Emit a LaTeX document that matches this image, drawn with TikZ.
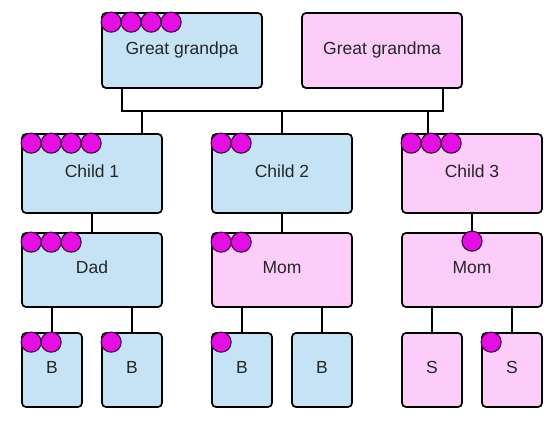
\documentclass[tikz,border=0pt]{standalone}
\usepackage{fontspec}
\setmainfont{Liberation Sans}
\definecolor{boxblue}{HTML}{C5E3F5}
\definecolor{boxpink}{HTML}{FCCDF8}
\definecolor{dotfill}{HTML}{E30FE3}
\definecolor{dotline}{HTML}{4A0A4A}
\tikzset{
  box/.style={draw=black, line width=1.7pt, rounded corners=4pt, inner sep=0pt,
    text height=8pt, text depth=0pt, font=\fontsize{17.5}{20}\selectfont, text=black!85},
  bigbox/.style={box, minimum width=160pt, minimum height=75pt},
  midbox/.style={box, minimum width=140pt, minimum height=79pt},
  rowbox/.style={box, minimum width=140pt, minimum height=74pt},
  smallbox/.style={box, minimum width=60pt, minimum height=74pt},
  blue/.style={fill=boxblue},
  pink/.style={fill=boxpink},
  dot/.style={circle, draw=dotline, fill=dotfill, line width=1.2pt, minimum size=20pt, inner sep=0pt},
  link/.style={draw=black, line width=1.9pt}
}
\begin{document}
\begin{tikzpicture}[x=1pt, y=-1pt]
\useasboundingbox (0,0) rectangle (557,427);
\fill[white] (0,0) rectangle (557,427);
% coordinates for connectors
\coordinate (busL) at (122,111);
\coordinate (busR) at (443,111);
\coordinate (j1) at (142,111);
\coordinate (j2) at (282,111);
\coordinate (j3) at (428,111);
% connectors
\draw[link] (busL |- 0,88) -- (busL) -- (busR) -- (busR |- 0,88);
\draw[link] (j1) -- (j1 |- 0,134);
\draw[link] (j2) -- (j2 |- 0,134);
\draw[link] (j3) -- (j3 |- 0,134);
\draw[link] (92,213) -- (92,233);
\draw[link] (282,213) -- (282,233);
\draw[link] (472,213) -- (472,233);
\draw[link] (52,307) -- (52,333);
\draw[link] (132,307) -- (132,333);
\draw[link] (242,307) -- (242,333);
\draw[link] (322,307) -- (322,333);
\draw[link] (432,307) -- (432,333);
\draw[link] (512,307) -- (512,333);
% boxes
\node[bigbox, blue] (gp) at (182,50.5) {Great grandpa};
\node[bigbox, pink] (gm) at (382,50.5) {Great grandma};
\node[midbox, blue] (c1) at (92,173.5) {Child 1};
\node[midbox, blue] (c2) at (282,173.5) {Child 2};
\node[midbox, pink] (c3) at (472,173.5) {Child 3};
\node[rowbox, blue] (dad) at (92,270) {Dad};
\node[rowbox, pink] (mom1) at (282,270) {Mom};
\node[rowbox, pink] (mom2) at (472,270) {Mom};
\node[smallbox, blue] (b1) at (52,370) {B};
\node[smallbox, blue] (b2) at (132,370) {B};
\node[smallbox, blue] (b3) at (242,370) {B};
\node[smallbox, blue] (b4) at (322,370) {B};
\node[smallbox, pink] (s1) at (432,370) {S};
\node[smallbox, pink] (s2) at (512,370) {S};
% dots
\foreach \i in {0,1,2,3} \node[dot] (gpd\i) at ([xshift=10pt+\i*20pt, yshift=-10pt]gp.north west) {};
\foreach \i in {0,1,2,3} \node[dot] (c1d\i) at ([xshift=10pt+\i*20pt, yshift=-10pt]c1.north west) {};
\foreach \i in {0,1} \node[dot] (c2d\i) at ([xshift=10pt+\i*20pt, yshift=-10pt]c2.north west) {};
\foreach \i in {0,1,2} \node[dot] (c3d\i) at ([xshift=10pt+\i*20pt, yshift=-10pt]c3.north west) {};
\foreach \i in {0,1,2} \node[dot] (dadd\i) at ([xshift=10pt+\i*20pt, yshift=-10pt]dad.north west) {};
\foreach \i in {0,1} \node[dot] (mom1d\i) at ([xshift=10pt+\i*20pt, yshift=-10pt]mom1.north west) {};
\node[dot] (mom2d) at ([yshift=-9pt]mom2.north) {};
\foreach \i in {0,1} \node[dot] (b1d\i) at ([xshift=10pt+\i*20pt, yshift=-10pt]b1.north west) {};
\node[dot] (b2d) at ([xshift=10pt, yshift=-10pt]b2.north west) {};
\node[dot] (b3d) at ([xshift=10pt, yshift=-10pt]b3.north west) {};
\node[dot] (s2d) at ([xshift=10pt, yshift=-10pt]s2.north west) {};
\end{tikzpicture}
\end{document}
